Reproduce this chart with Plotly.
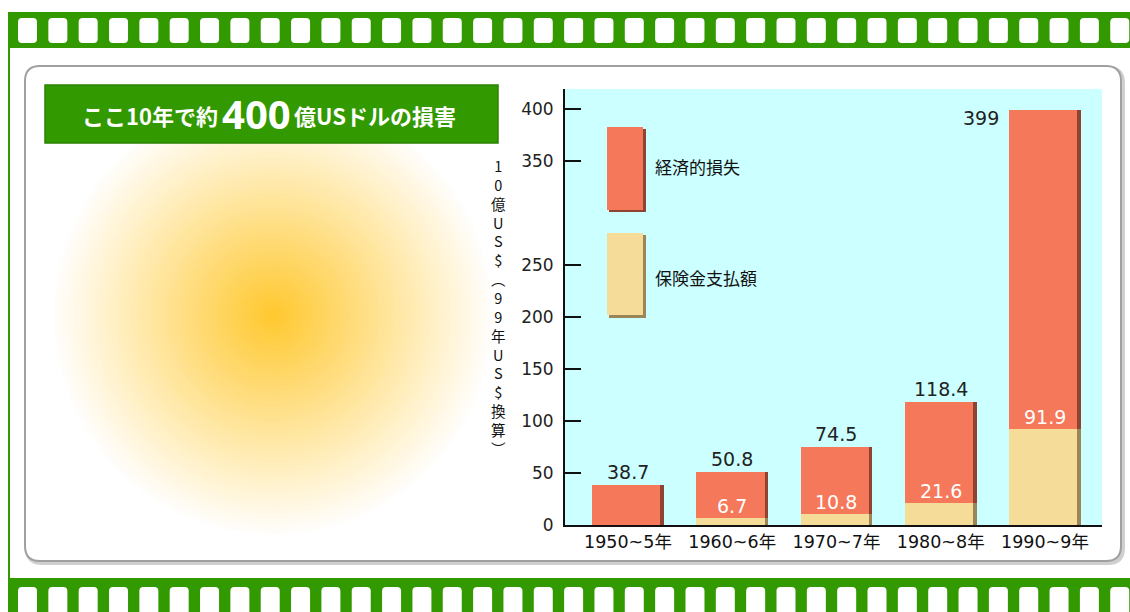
import plotly.graph_objects as go

# ---------------- data ----------------
categories = ["1950~5年", "1960~6年", "1970~7年", "1980~8年", "1990~9年"]
economic_loss = [38.7, 50.8, 74.5, 118.4, 399]
insured_loss = [None, 6.7, 10.8, 21.6, 91.9]
y_tick_vals = [0, 50, 100, 150, 200, 250, 350, 400]
y_tick_text = ["0", "50", "100", "150", "200", "250", "350", "400"]
series_names = ["経済的損失", "保険金支払額"]
title_parts = ["ここ10年で約", "400", "億USドルの損害"]
y_title = "10億US$︵99年US$換算︶"

# ---------------- styling ----------------
W_FIG, H_FIG = 1130, 612
L, R, T, B = 565, 1102, 89, 525
PW, PH = R - L, B - T
GREEN = "#339900"
RED = "#F5785A"
RED_SH = "#8E4430"
YEL = "#F5DC98"
YEL_SH = "#9A8656"
CYAN = "#CCFFFF"
NUM_FONT = "DejaVu Sans, Noto Sans CJK JP"
JP_FONT = "Noto Sans CJK JP, DejaVu Sans"


def px(x):
    return (x - L) / PW


def py(y):
    return (B - y) / PH


def rrect_path(x0, y0, x1, y1, r):
    pts = [
        ("M", [(x0 + r, y0)]), ("L", [(x1 - r, y0)]), ("Q", [(x1, y0), (x1, y0 + r)]),
        ("L", [(x1, y1 - r)]), ("Q", [(x1, y1), (x1 - r, y1)]), ("L", [(x0 + r, y1)]),
        ("Q", [(x0, y1), (x0, y1 - r)]), ("L", [(x0, y0 + r)]), ("Q", [(x0, y0), (x0 + r, y0)]),
    ]
    s = ""
    for cmd, ps in pts:
        s += cmd + " " + " ".join(f"{px(a):.5f},{py(b):.5f}" for a, b in ps) + " "
    return s + "Z"


shapes = []


def add_rect(x0, y0, x1, y1, fill, line=None, lw=0):
    shapes.append(dict(type="rect", xref="paper", yref="paper", layer="below",
                       x0=px(x0), x1=px(x1), y0=py(y1), y1=py(y0),
                       fillcolor=fill, line=dict(color=line or fill, width=lw)))


# panel (rounded, with shadow)
shapes.append(dict(type="path", xref="paper", yref="paper", layer="below",
                   path=rrect_path(27, 68, 1123, 563, 15),
                   fillcolor="#FFFFFF", line=dict(color="#CFCFCF", width=4)))
shapes.append(dict(type="path", xref="paper", yref="paper", layer="below",
                   path=rrect_path(25, 66, 1121, 561, 15),
                   fillcolor="#FFFFFF", line=dict(color="#A0A0A0", width=2)))

# sun glow (concentric rings)
cx, cy, RAD = 273, 315, 224
N = 44
for i in range(N):
    t = 1 - i / N
    f = t ** 1.0
    g_ = int(200 + 55 * f)
    b_ = int(45 + 210 * f)
    rr = RAD * t
    shapes.append(dict(type="circle", xref="paper", yref="paper", layer="below",
                       x0=px(cx - rr), x1=px(cx + rr), y0=py(cy + rr), y1=py(cy - rr),
                       fillcolor=f"rgb(255,{g_},{b_})", line=dict(width=0)))

# title box
add_rect(45, 85, 498, 143, GREEN, "#2B8200", 1.5)

# plot area background
add_rect(L, T, R, B, CYAN)

# film strips
add_rect(8, 12, 1135, 48, GREEN)
add_rect(8, 578, 1135, 620, GREEN)
add_rect(8, 48, 10, 578, GREEN)
period = 30.34
for k in range(38):
    hx = 18 + period * k
    shapes.append(dict(type="path", xref="paper", yref="paper", layer="below",
                       path=rrect_path(hx, 18, hx + 19, 43, 4),
                       fillcolor="#FFFFFF", line=dict(width=0)))
    shapes.append(dict(type="path", xref="paper", yref="paper", layer="below",
                       path=rrect_path(hx, 587, hx + 19, 625, 4),
                       fillcolor="#FFFFFF", line=dict(width=0)))

# legend swatches
add_rect(609, 129, 646, 212, RED_SH)
add_rect(607, 127, 643, 210, RED)
add_rect(609, 235, 646, 318, YEL_SH)
add_rect(607, 233, 643, 315, YEL)

# ---------------- traces ----------------
BW = 0.69
BW_MAIN = 0.655
OFF = -BW / 2
fig = go.Figure()
fig.add_trace(go.Bar(x=categories, y=economic_loss, width=BW, offset=OFF,
                     marker=dict(color=RED_SH, line=dict(width=0)),
                     showlegend=False, hoverinfo="skip"))
fig.add_trace(go.Bar(x=categories, y=economic_loss, width=BW_MAIN, offset=OFF,
                     name=series_names[0],
                     marker=dict(color=RED, line=dict(width=0))))
fig.add_trace(go.Bar(x=categories, y=insured_loss, width=BW, offset=OFF,
                     marker=dict(color=YEL_SH, line=dict(width=0)),
                     showlegend=False, hoverinfo="skip"))
fig.add_trace(go.Bar(x=categories, y=insured_loss, width=BW_MAIN, offset=OFF,
                     name=series_names[1],
                     marker=dict(color=YEL, line=dict(width=0))))

# ---------------- annotations ----------------
ann = []
YMAX = 419
for i, (c, v) in enumerate(zip(categories, economic_loss)):
    if v > YMAX * 0.9:
        ann.append(dict(x=i + OFF, y=v, xref="x", yref="y", text=f"{v:g}",
                        xanchor="right", yanchor="top", xshift=-8, yshift=5,
                        showarrow=False, font=dict(family=NUM_FONT, size=19, color="#222222")))
    else:
        ann.append(dict(x=i, y=v, xref="x", yref="y", text=f"{v:g}",
                        xanchor="center", yanchor="bottom", yshift=0,
                        showarrow=False, font=dict(family=NUM_FONT, size=19, color="#222222")))
for i, (c, v) in enumerate(zip(categories, insured_loss)):
    if v is None:
        continue
    ann.append(dict(x=i, y=v, xref="x", yref="y", text=f"{v:g}",
                    xanchor="center", yanchor="bottom", yshift=-1,
                    showarrow=False, font=dict(family=NUM_FONT, size=19, color="#FFFFFF")))

# legend labels
ann.append(dict(x=px(653), y=py(166), xref="paper", yref="paper", text=series_names[0],
                xanchor="left", yanchor="middle", showarrow=False,
                font=dict(family=JP_FONT, size=17, color="#111111")))
ann.append(dict(x=px(653), y=py(277), xref="paper", yref="paper", text=series_names[1],
                xanchor="left", yanchor="middle", showarrow=False,
                font=dict(family=JP_FONT, size=17, color="#111111")))

# y-axis title (vertical stacked)
ann.append(dict(x=px(498), y=py(307), xref="paper", yref="paper",
                text="<br>".join(list(y_title)),
                xanchor="center", yanchor="middle", showarrow=False,
                font=dict(family=JP_FONT, size=14.5, color="#111111")))

# title in the green box
ann.append(dict(x=px(220), y=py(115), xref="paper", yref="paper", text="<b>" + title_parts[0] + "</b>",
                xanchor="right", yanchor="middle", showarrow=False,
                font=dict(family=JP_FONT, size=22, color="#FFFFFF")))
ann.append(dict(x=px(256), y=py(113), xref="paper", yref="paper", text="<b>" + title_parts[1] + "</b>",
                xanchor="center", yanchor="middle", showarrow=False,
                font=dict(family="Noto Sans, DejaVu Sans", size=40, color="#FFFFFF")))
ann.append(dict(x=px(292), y=py(115), xref="paper", yref="paper", text="<b>" + title_parts[2] + "</b>",
                xanchor="left", yanchor="middle", showarrow=False,
                font=dict(family=JP_FONT, size=22, color="#FFFFFF")))

fig.update_layout(
    width=W_FIG, height=H_FIG,
    margin=dict(l=L, r=W_FIG - R, t=T, b=H_FIG - B, pad=0),
    paper_bgcolor="#FFFFFF", plot_bgcolor="rgba(0,0,0,0)",
    barmode="overlay", bargap=0, showlegend=False,
    shapes=shapes, annotations=ann,
    xaxis=dict(type="category", range=[-0.604, 4.547], showline=True, linecolor="#111111",
               linewidth=2, ticks="", showgrid=False, zeroline=False,
               tickfont=dict(family=NUM_FONT, size=17.5, color="#111111")),
    yaxis=dict(range=[0, YMAX], tickvals=y_tick_vals, ticktext=y_tick_text,
               showline=True, linecolor="#111111", linewidth=2,
               ticks="inside", ticklen=16, tickwidth=2, tickcolor="#111111",
               showgrid=False, zeroline=False, ticklabelstandoff=6,
               tickfont=dict(family=NUM_FONT, size=17, color="#222222")),
)

fig.write_html("out.html")
